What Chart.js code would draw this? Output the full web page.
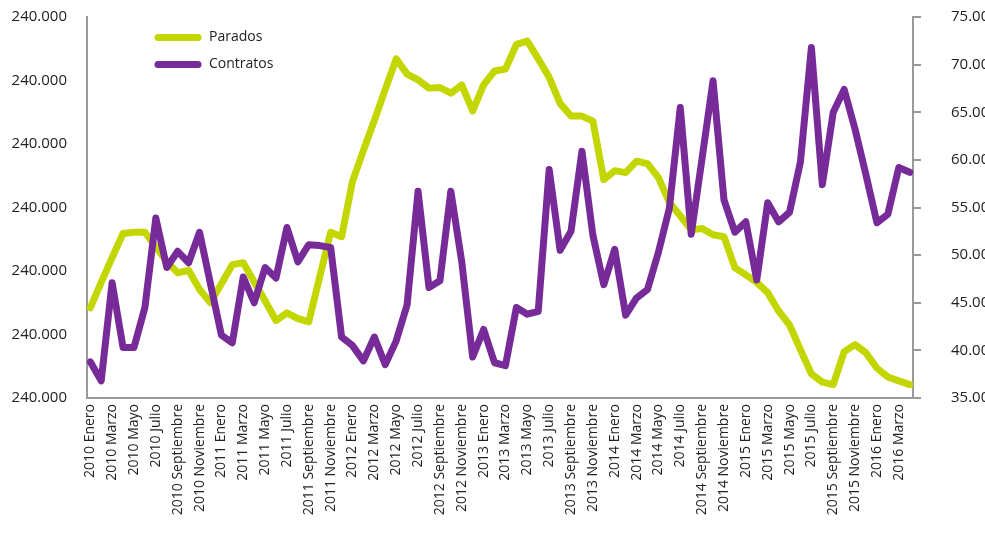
<!DOCTYPE html>
<html>
<head>
<meta charset="utf-8">
<script src="https://cdn.jsdelivr.net/npm/chart.js@4/dist/chart.umd.min.js"></script>
<style>
  body { margin: 0; background: #fff; }
  #wrap { width: 985px; height: 539px; }
</style>
</head>
<body>
<div id="wrap"><canvas id="myChart" width="985" height="539"></canvas></div>
<script>
// categories: months Jan 2010 .. Apr 2016
var years = ['2010', '2011', '2012', '2013', '2014', '2015', '2016']
var monthNames = ['Enero', 'Febrero', 'Marzo', 'Abril', 'Mayo', 'Junio', 'Julio', 'Agosto', 'Septiembre', 'Octubre', 'Noviembre', 'Diciembre']
var months = []
for (var y = 0; y < years.length; y++) {
  for (var m = 0; m < 12; m++) {
    if (months.length < 76) months.push(years[y] + ' ' + monthNames[m])
  }
}

// left axis labels (as printed on the original)
var leftTicks = ['240.000', '240.000', '240.000', '240.000', '240.000', '240.000', '240.000']

// Parados, left axis units (one unit per gridline of the left axis)
var parados = [
  1.42, 1.82, 2.21, 2.59, 2.61, 2.61, 2.38, 2.15, 1.97, 2.01, 1.71, 1.50,
  1.80, 2.10, 2.13, 1.83, 1.53, 1.22, 1.34, 1.25, 1.20, 1.91, 2.61, 2.54,
  3.41, 3.90, 4.37, 4.86, 5.34, 5.10, 5.01, 4.88, 4.89, 4.80, 4.93, 4.52,
  4.93, 5.15, 5.18, 5.57, 5.62, 5.34, 5.05, 4.64, 4.44, 4.44, 4.36, 3.44,
  3.58, 3.55, 3.73, 3.69, 3.47, 3.08, 2.87, 2.65, 2.67, 2.57, 2.54, 2.05,
  1.94, 1.82, 1.66, 1.37, 1.15, 0.76, 0.38, 0.25, 0.21, 0.73, 0.84, 0.71,
  0.47, 0.33, 0.27, 0.21
]

// Contratos, right axis
var contratos = [
  38800, 36800, 47100, 40300, 40300, 44500, 53900, 48700, 50400, 49200, 52400, 47000,
  41600, 40800, 47700, 45000, 48700, 47600, 52900, 49300, 51100, 51000, 50800, 41400,
  40500, 38900, 41400, 38500, 41000, 44800, 56700, 46600, 47300, 56700, 49300, 39300,
  42200, 38700, 38400, 44500, 43800, 44100, 59000, 50500, 52500, 60900, 52100, 46900,
  50600, 43700, 45500, 46400, 50300, 54900, 65500, 52200, 60200, 68300, 55800, 52400,
  53500, 47400, 55500, 53500, 54500, 59800, 71800, 57400, 65000, 67400, 63200, 58400,
  53400, 54300, 59200, 58700
]

const GREEN = '#c4d600'
const PURPLE = '#772b99'
const AXIS = '#9a9a9a'
const TEXT = '#222222'
const FONT = "'Open Sans', sans-serif"

function toPoints(arr) {
  return arr.map(function (v, i) { return {x: i, y: v} })
}

function formatThousands(v) {
  var s = Math.round(v).toString()
  return s.slice(0, s.length - 3) + '.' + s.slice(s.length - 3)
}

// legend drawn in the top left of the plot, like the original
var legendPlugin = {
  id: 'sideLegend',
  afterDraw: function (chart) {
    var ctx = chart.ctx
    var items = [
      {label: 'Parados', color: GREEN, y: 37.5},
      {label: 'Contratos', color: PURPLE, y: 64.5}
    ]
    ctx.save()
    items.forEach(function (it) {
      ctx.strokeStyle = it.color
      ctx.lineWidth = 7
      ctx.lineCap = 'round'
      ctx.beginPath()
      ctx.moveTo(158, it.y)
      ctx.lineTo(198, it.y)
      ctx.stroke()
      ctx.fillStyle = TEXT
      ctx.font = '14px ' + FONT
      ctx.textBaseline = 'middle'
      ctx.fillText(it.label, 209, it.y)
    })
    ctx.restore()
  }
}

// keep the plot box where the original has it
function noPad(axis) {
  axis.paddingTop = 0
  axis.paddingBottom = 0
  axis.paddingLeft = 0
  axis.paddingRight = 0
}

var ctx = document.getElementById('myChart').getContext('2d')
var myChart = new Chart(ctx, {
  type: 'line',
  data: {
    datasets: [{
      label: 'Parados',
      data: toPoints(parados),
      borderColor: GREEN,
      borderWidth: 7,
      yAxisID: 'y',
      order: 1
    }, {
      label: 'Contratos',
      data: toPoints(contratos),
      borderColor: PURPLE,
      borderWidth: 7,
      yAxisID: 'y2',
      order: 0
    }]
  },
  options: {
    responsive: false,
    animation: false,
    devicePixelRatio: 1,
    layout: { padding: { top: 17, left: 0, right: 0, bottom: 0 } },
    elements: {
      point: { radius: 0 },
      line: { tension: 0, borderJoinStyle: 'round', borderCapStyle: 'round' }
    },
    plugins: {
      legend: { display: false },
      tooltip: { enabled: false }
    },
    scales: {
      x: {
        type: 'linear',
        min: -0.3,
        max: 75.3,
        afterBuildTicks: function (axis) {
          axis.ticks = months.map(function (l, i) { return {value: i} })
            .filter(function (t) { return t.value % 2 === 0 })
        },
        afterFit: function (axis) { axis.height = 141; noPad(axis) },
        ticks: {
          autoSkip: false,
          minRotation: 90,
          maxRotation: 90,
          padding: 6,
          color: TEXT,
          font: { family: FONT, size: 14 },
          callback: function (v) { return months[v] }
        },
        grid: { drawOnChartArea: false, drawTicks: false },
        border: { color: AXIS, width: 2 }
      },
      y: {
        position: 'left',
        min: 0,
        max: 6,
        afterFit: function (axis) { axis.width = 87; noPad(axis) },
        ticks: {
          stepSize: 1,
          padding: 20,
          color: TEXT,
          font: { family: FONT, size: 15 },
          callback: function (v, i) { return leftTicks[i] }
        },
        grid: { drawOnChartArea: false, drawTicks: false },
        border: { color: AXIS, width: 2 }
      },
      y2: {
        position: 'right',
        min: 35000,
        max: 75000,
        afterFit: function (axis) { axis.width = 72; noPad(axis) },
        ticks: {
          stepSize: 5000,
          padding: 30,
          color: TEXT,
          font: { family: FONT, size: 15 },
          callback: function (v) { return formatThousands(v) }
        },
        grid: { drawOnChartArea: false, drawTicks: true, tickLength: 8, color: AXIS, lineWidth: 2 },
        border: { color: AXIS, width: 2 }
      }
    }
  },
  plugins: [legendPlugin]
})
</script>
</body>
</html>
